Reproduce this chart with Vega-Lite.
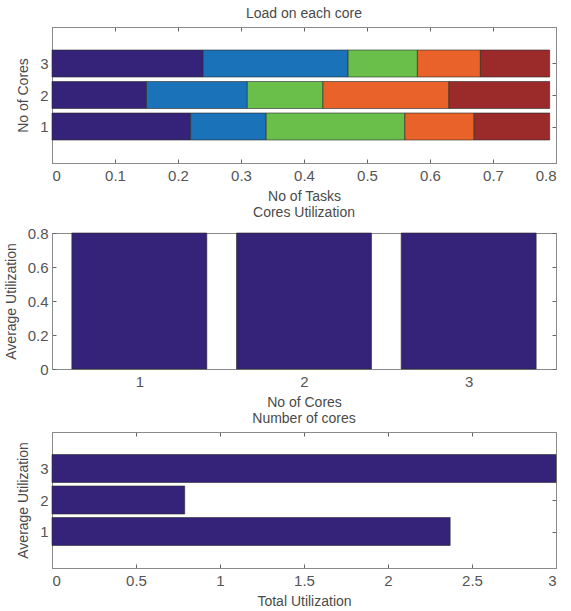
{
  "$schema": "https://vega.github.io/schema/vega-lite/v6.json",
  "background": "white",
  "padding": {"left": 3, "top": 6, "right": 2, "bottom": 0},
  "spacing": 1,
  "config": {
    "font": "Liberation Sans",
    "view": {"stroke": "#8a8a8a", "strokeWidth": 1},
    "axis": {
      "grid": false,
      "domainColor": "#8a8a8a",
      "tickColor": "#666",
      "tickSize": -4,
      "labelFont": "Liberation Sans",
      "labelFontSize": 15,
      "labelColor": "#555",
      "titleFont": "Liberation Sans",
      "titleFontSize": 14,
      "titleFontWeight": "normal",
      "titleColor": "#4a4a4a"
    },
    "axisX": {"labelPadding": 9, "titlePadding": 6},
    "axisY": {"labelPadding": 8, "titlePadding": 9},
    "title": {"font": "Liberation Sans", "fontSize": 14, "fontWeight": "normal", "color": "#4a4a4a", "offset": 6},
    "bar": {"stroke": "#2a2a2a", "strokeWidth": 0.6}
  },
  "datasets": {
    "load": [
      {"core": 1, "task": 1, "load": 0.22},
      {"core": 1, "task": 2, "load": 0.12},
      {"core": 1, "task": 3, "load": 0.22},
      {"core": 1, "task": 4, "load": 0.11},
      {"core": 1, "task": 5, "load": 0.12},
      {"core": 2, "task": 1, "load": 0.15},
      {"core": 2, "task": 2, "load": 0.16},
      {"core": 2, "task": 3, "load": 0.12},
      {"core": 2, "task": 4, "load": 0.20},
      {"core": 2, "task": 5, "load": 0.16},
      {"core": 3, "task": 1, "load": 0.24},
      {"core": 3, "task": 2, "load": 0.23},
      {"core": 3, "task": 3, "load": 0.11},
      {"core": 3, "task": 4, "load": 0.10},
      {"core": 3, "task": 5, "load": 0.11}
    ],
    "util": [
      {"core": 1, "util": 0.8},
      {"core": 2, "util": 0.8},
      {"core": 3, "util": 0.8}
    ],
    "total": [
      {"core": 1, "total": 2.37},
      {"core": 2, "total": 0.79},
      {"core": 3, "total": 3.0}
    ]
  },
  "vconcat": [
    {
      "title": "Load on each core",
      "width": 504,
      "height": 136,
      "data": {"name": "load"},
      "layer": [
        {
          "mark": {"type": "bar", "size": 27, "orient": "horizontal"},
          "encoding": {
            "y": {"field": "core", "type": "quantitative", "scale": {"domain": [0, 4], "nice": false},
                  "axis": {"values": [1, 2, 3], "title": "No of Cores", "orient": "left"}},
            "x": {"field": "load", "type": "quantitative", "stack": "zero", "scale": {"domain": [0, 0.8], "nice": false},
                  "axis": {"values": [0, 0.1, 0.2, 0.3, 0.4, 0.5, 0.6, 0.7, 0.8], "title": "No of Tasks", "orient": "bottom", "format": "~g"}},
            "color": {"field": "task", "type": "ordinal", "legend": null,
                      "scale": {"domain": [1, 2, 3, 4, 5], "range": ["#35237a", "#1a72b8", "#6abf4b", "#e8622a", "#9b2a2a"]}},
            "order": {"field": "task"}
          }
        },
        {
          "mark": {"type": "bar", "size": 27, "orient": "horizontal", "opacity": 0, "strokeOpacity": 0},
          "encoding": {
            "y": {"field": "core", "type": "quantitative", "scale": {"domain": [0, 4], "nice": false},
                  "axis": {"values": [1, 2, 3], "title": null, "labels": false, "orient": "right"}},
            "x": {"field": "load", "type": "quantitative", "stack": "zero", "scale": {"domain": [0, 0.8], "nice": false},
                  "axis": {"values": [0, 0.1, 0.2, 0.3, 0.4, 0.5, 0.6, 0.7, 0.8], "title": null, "labels": false, "orient": "top"}}
          }
        }
      ],
      "resolve": {"axis": {"x": "independent", "y": "independent"}}
    },
    {
      "title": "Cores Utilization",
      "width": 504,
      "height": 136,
      "data": {"name": "util"},
      "layer": [
        {
          "mark": {"type": "bar", "size": 135, "orient": "vertical", "color": "#35237a"},
          "encoding": {
            "x": {"field": "core", "type": "quantitative", "scale": {"domain": [0.5, 3.5], "nice": false},
                  "axis": {"values": [1, 2, 3], "title": "No of Cores", "orient": "bottom"}},
            "y": {"field": "util", "type": "quantitative", "scale": {"domain": [0, 0.8], "nice": false},
                  "axis": {"values": [0, 0.2, 0.4, 0.6, 0.8], "title": "Average Utilization", "orient": "left", "format": "~g"}}
          }
        },
        {
          "mark": {"type": "bar", "size": 135, "orient": "vertical", "opacity": 0, "strokeOpacity": 0},
          "encoding": {
            "x": {"field": "core", "type": "quantitative", "scale": {"domain": [0.5, 3.5], "nice": false},
                  "axis": {"values": [1, 2, 3], "title": null, "labels": false, "orient": "top"}},
            "y": {"field": "util", "type": "quantitative", "scale": {"domain": [0, 0.8], "nice": false},
                  "axis": {"values": [0, 0.2, 0.4, 0.6, 0.8], "title": null, "labels": false, "orient": "right"}}
          }
        }
      ],
      "resolve": {"axis": {"x": "independent", "y": "independent"}}
    },
    {
      "title": "Number of cores",
      "width": 504,
      "height": 136,
      "data": {"name": "total"},
      "layer": [
        {
          "mark": {"type": "bar", "size": 28, "orient": "horizontal", "color": "#35237a"},
          "encoding": {
            "y": {"field": "core", "type": "quantitative", "scale": {"domain": [0, 4], "nice": false},
                  "axis": {"values": [1, 2, 3], "title": "Average Utilization", "orient": "left"}},
            "x": {"field": "total", "type": "quantitative", "scale": {"domain": [0, 3], "nice": false},
                  "axis": {"values": [0, 0.5, 1, 1.5, 2, 2.5, 3], "title": "Total Utilization", "orient": "bottom", "format": "~g"}}
          }
        },
        {
          "mark": {"type": "bar", "size": 28, "orient": "horizontal", "opacity": 0, "strokeOpacity": 0},
          "encoding": {
            "y": {"field": "core", "type": "quantitative", "scale": {"domain": [0, 4], "nice": false},
                  "axis": {"values": [1, 2, 3], "title": null, "labels": false, "orient": "right"}},
            "x": {"field": "total", "type": "quantitative", "scale": {"domain": [0, 3], "nice": false},
                  "axis": {"values": [0, 0.5, 1, 1.5, 2, 2.5, 3], "title": null, "labels": false, "orient": "top"}}
          }
        }
      ],
      "resolve": {"axis": {"x": "independent", "y": "independent"}}
    }
  ]
}
